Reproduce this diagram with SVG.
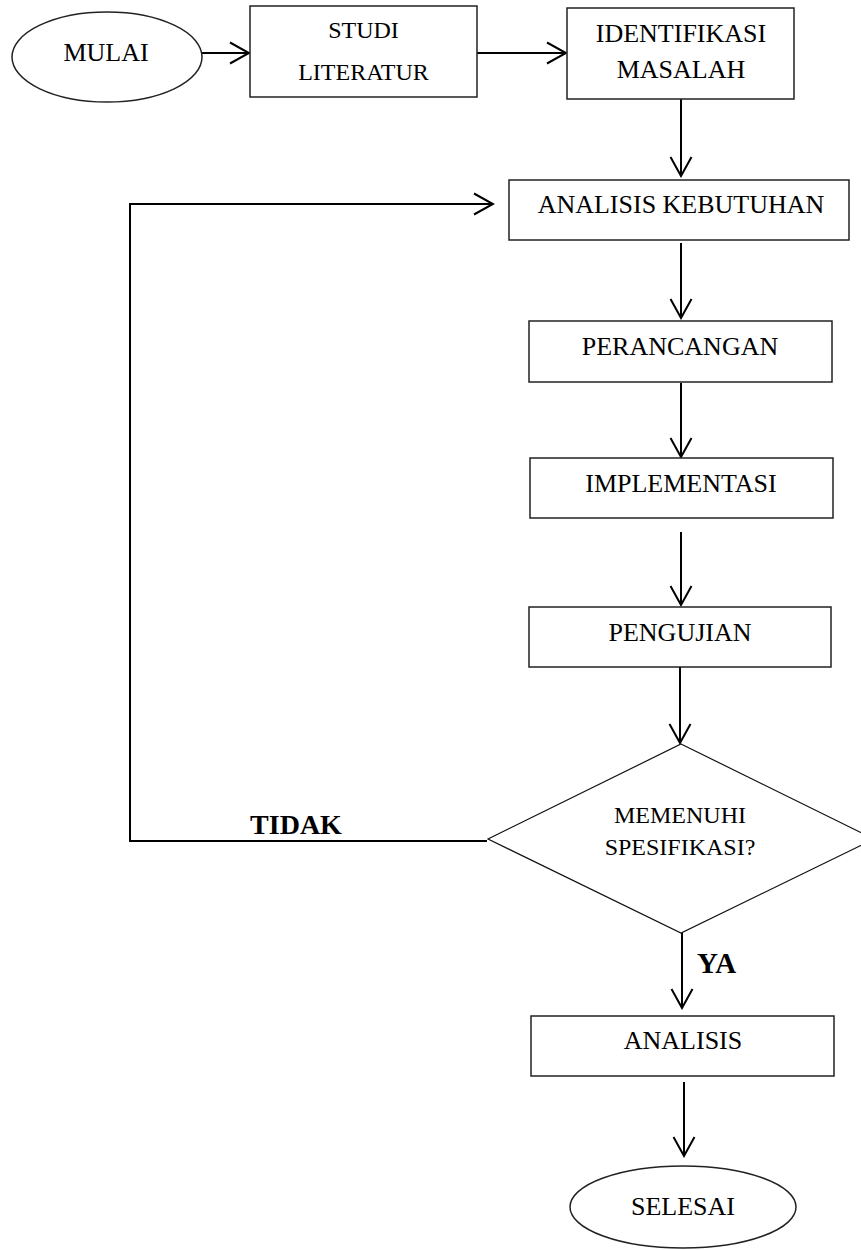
<svg xmlns="http://www.w3.org/2000/svg" width="861" height="1250" viewBox="0 0 861 1250">
<style>
.node{fill:#fff;stroke:#222;stroke-width:1.5}
.dia{fill:#fff;stroke:#111;stroke-width:1.2}
.t{font-family:"Liberation Serif","Times New Roman",serif;font-size:26px;fill:#000;text-anchor:middle}
.s{font-size:24px}
.b{font-family:"Liberation Serif","Times New Roman",serif;font-weight:bold;fill:#000}
.c{fill:none;stroke:#000;stroke-width:2}
</style>
<defs>
<marker id="arr" markerUnits="userSpaceOnUse" viewBox="0 0 22 24" refX="20" refY="12" markerWidth="22" markerHeight="24" orient="auto">
<path d="M1,1.5 L20,12 L1,22.5" fill="none" stroke="#000" stroke-width="2"/>
</marker>
</defs>
<g id="connectors">
<line class="c" x1="202" y1="53" x2="249" y2="53" marker-end="url(#arr)"/>
<line class="c" x1="477" y1="53" x2="566" y2="53" marker-end="url(#arr)"/>
<line class="c" x1="681" y1="99" x2="681" y2="176" marker-end="url(#arr)"/>
<polyline class="c" points="487,841 130,841 130,204 493,204" marker-end="url(#arr)"/>
<line class="c" x1="681" y1="243" x2="681" y2="318" marker-end="url(#arr)"/>
<line class="c" x1="681" y1="383" x2="681" y2="457" marker-end="url(#arr)"/>
<line class="c" x1="681" y1="532" x2="681" y2="605" marker-end="url(#arr)"/>
<line class="c" x1="680" y1="667" x2="680" y2="743" marker-end="url(#arr)"/>
<line class="c" x1="682" y1="933" x2="682" y2="1008" marker-end="url(#arr)"/>
<line class="c" x1="684" y1="1082" x2="684" y2="1156" marker-end="url(#arr)"/>
<text class="b" x="296" y="834" font-size="28" text-anchor="middle">TIDAK</text>
<text class="b" x="697" y="973" font-size="29">YA</text>
</g>
<g id="mulai">
<ellipse class="node" cx="107" cy="57" rx="95" ry="45"/>
<text class="t" x="106" y="61">MULAI</text>
</g>
<g id="studi">
<rect class="node" x="250" y="6" width="227" height="91"/>
<text class="t s" x="363.5" y="38">STUDI</text>
<text class="t s" x="363.5" y="80">LITERATUR</text>
</g>
<g id="identifikasi">
<rect class="node" x="567" y="8" width="227" height="91"/>
<text class="t" x="681" y="42">IDENTIFIKASI</text>
<text class="t" x="681" y="78">MASALAH</text>
</g>
<g id="analisis-kebutuhan">
<rect class="node" x="509" y="180" width="340" height="60"/>
<text class="t" x="681" y="213">ANALISIS KEBUTUHAN</text>
</g>
<g id="perancangan">
<rect class="node" x="529" y="321" width="303" height="61"/>
<text class="t" x="680" y="355">PERANCANGAN</text>
</g>
<g id="implementasi">
<rect class="node" x="530" y="458" width="303" height="60"/>
<text class="t" x="681" y="492">IMPLEMENTASI</text>
</g>
<g id="pengujian">
<rect class="node" x="529" y="607" width="302" height="60"/>
<text class="t" x="680" y="641">PENGUJIAN</text>
</g>
<g id="keputusan">
<polygon class="dia" points="681,744 874,839 681,933 488,839"/>
<text class="t s" x="680" y="823">MEMENUHI</text>
<text class="t s" x="680" y="855">SPESIFIKASI?</text>
</g>
<g id="analisis">
<rect class="node" x="531" y="1016" width="303" height="60"/>
<text class="t" x="683" y="1049">ANALISIS</text>
</g>
<g id="selesai">
<ellipse class="node" cx="683" cy="1207" rx="113" ry="41"/>
<text class="t" x="683" y="1215">SELESAI</text>
</g>
</svg>
